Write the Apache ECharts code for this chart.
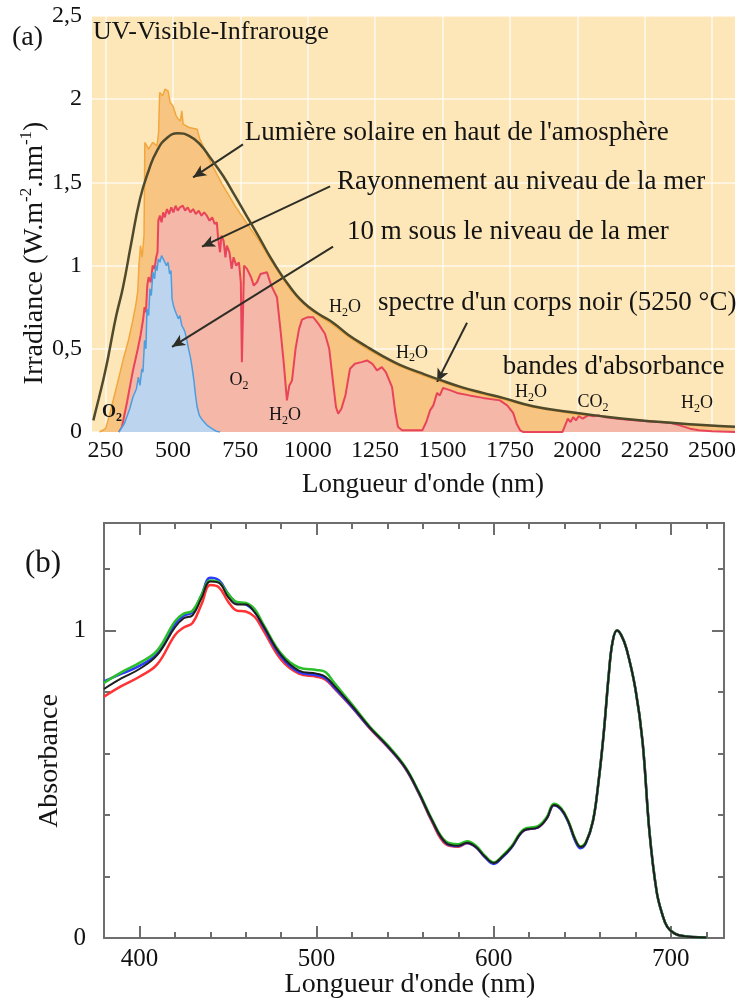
<!DOCTYPE html>
<html>
<head>
<meta charset="utf-8">
<script src="https://cdn.jsdelivr.net/npm/echarts@6/dist/echarts.min.js"></script>
<style>
  html, body { margin: 0; padding: 0; background: #ffffff; }
  #main { width: 740px; height: 1000px; }
</style>
</head>
<body>
<div id="main"></div>
<script>
const FONT = '"Liberation Serif", "Times New Roman", serif';

// ---------- (a) solar spectra: [wavelength (nm), irradiance (W.m-2.nm-1)] ----------
const topOfAtmosphere = [
  [228,0],[250,0.02],[265,0.1],[280,0.2],[300,0.33],[318,0.45],[335,0.55],[350,0.66],[362,0.76],
  [370,0.85],[374,1.0],[380,1.12],[386,1.05],[393,1.18],[396,1.74],[410,1.70],[425,1.74],[441,1.72],
  [447,1.8],[451,2.04],[462,2.02],[470,2.06],[482,2.05],[490,1.98],[500,1.96],[512,1.9],[520,1.88],
  [528,1.87],[533,1.93],[538,1.85],[560,1.83],[590,1.82],[600,1.76],[640,1.62],[686,1.48],[730,1.36],
  [780,1.24],[820,1.15],[860,1.04],[900,0.94],[934,0.86],[971,0.79],[1009,0.735],[1050,0.69],
  [1094,0.645],[1150,0.575],[1220,0.50],[1280,0.445],[1342,0.395],[1420,0.345],[1491,0.303],
  [1570,0.262],[1650,0.227],[1724,0.197],[1836,0.148],[1973,0.113],[2100,0.087],[2221,0.067],
  [2350,0.05],[2466,0.038],[2585,0.03]
];
const seaLevel = [
  [300,0],[311,0.03],[330,0.18],[352,0.37],[370,0.5],[380,0.58],[389,0.67],[395,0.75],[400,0.72],
  [405,0.88],[410,0.93],[418,0.9],[425,1.0],[432,0.98],[438,1.05],[443,1.08],[446,1.27],[452,1.30],
  [458,1.26],[464,1.32],[470,1.29],[478,1.34],[486,1.31],[494,1.35],[502,1.32],[510,1.36],[518,1.33],
  [526,1.35],[537,1.36],[545,1.33],[555,1.35],[565,1.32],[575,1.34],[585,1.31],[596,1.33],[606,1.30],
  [616,1.32],[626,1.30],[636,1.27],[646,1.29],[655,1.25],[663,1.26],[668,1.16],[675,1.08],[680,1.18],
  [688,1.15],[695,1.05],[700,1.12],[710,1.08],[718,0.98],[725,1.05],[735,1.0],[745,1.02],[752,0.9],
  [756,0.42],[760,0.42],[764,1.0],[775,0.98],[790,0.93],[800,0.88],[812,0.90],[825,0.95],[849,0.96],
  [865,0.88],[886,0.81],[900,0.6],[912,0.4],[923,0.19],[932,0.28],[942,0.31],[955,0.5],[968,0.62],
  [979,0.675],[1000,0.69],[1020,0.69],[1040,0.65],[1064,0.59],[1080,0.5],[1094,0.3],[1105,0.15],
  [1113,0.11],[1125,0.14],[1140,0.22],[1157,0.38],[1175,0.41],[1200,0.42],[1220,0.43],[1240,0.41],
  [1257,0.37],[1275,0.39],[1290,0.36],[1313,0.27],[1325,0.12],[1335,0.03],[1350,0.01],[1425,0.01],
  [1440,0.06],[1454,0.13],[1466,0.16],[1480,0.235],[1490,0.22],[1502,0.265],[1530,0.25],[1554,0.235],
  [1600,0.22],[1650,0.205],[1713,0.19],[1740,0.16],[1762,0.115],[1775,0.05],[1788,0.01],[1800,0],
  [1945,0],[1955,0.04],[1965,0.08],[1975,0.06],[1985,0.09],[1995,0.07],[2005,0.095],[2020,0.08],
  [2040,0.1],[2060,0.095],[2080,0.1],[2100,0.09],[2150,0.08],[2200,0.072],[2250,0.066],[2300,0.06],
  [2344,0.055],[2380,0.04],[2418,0.02],[2450,0.01],[2500,0.005],[2585,0]
];
const underwater10m = [
  [300,0],[320,0.05],[340,0.14],[352,0.21],[365,0.26],[372,0.33],[378,0.28],[385,0.38],[389,0.36],
  [395,0.55],[400,0.5],[404,0.74],[410,0.7],[415,0.86],[420,0.82],[426,0.96],[432,0.92],[437,1.0],
  [441,0.97],[446,1.04],[452,1.02],[458,1.06],[464,1.04],[470,1.05],[476,1.0],[482,1.02],[488,0.95],
  [493,0.97],[497,0.8],[502,0.76],[508,0.73],[514,0.74],[520,0.68],[526,0.7],[533,0.64],[540,0.62],
  [545,0.6],[552,0.55],[558,0.5],[565,0.45],[571,0.39],[578,0.31],[584,0.22],[590,0.15],[598,0.1],
  [610,0.07],[627,0.04],[645,0.02],[660,0.005],[675,0]
];
const blackBody5250 = [
  [205,0.07],[211,0.11],[225,0.2],[240,0.3],[255,0.41],[267,0.51],[290,0.7],[315,0.87],[345,1.13],
  [378,1.40],[410,1.57],[441,1.69],[480,1.77],[519,1.795],[560,1.78],[600,1.73],[640,1.645],
  [686,1.54],[730,1.42],[775,1.295],[820,1.17],[860,1.054],[900,0.95],[934,0.873],[971,0.80],
  [1009,0.745],[1050,0.70],[1094,0.657],[1150,0.585],[1220,0.512],[1280,0.455],[1342,0.404],
  [1420,0.355],[1491,0.313],[1570,0.27],[1650,0.235],[1724,0.205],[1836,0.155],[1973,0.12],
  [2100,0.093],[2221,0.072],[2350,0.055],[2466,0.042],[2585,0.032]
];
const wavelengthTicksA = [250, 500, 750, 1000, 1250, 1500, 1750, 2000, 2250, 2500];

// ---------- (b) absorbance spectra ----------
const wavelengthsB = [380,390,400,410,420,425,430,435,440,445,450,455,460,465,470,480,490,500,505,510,
  520,530,540,550,558,565,573,580,585,590,595,600,605,610,617,625,630,634,638,642,646,649,652,656,659,
  662,665,667,669.5,672,675,680,684,688,692,695,698,702,706,712,720];
const absorbanceRed = [0.785,0.82,0.85,0.89,0.985,1.01,1.025,1.085,1.148,1.14,1.095,1.065,1.062,1.045,1.0,
  0.905,0.86,0.85,0.84,0.812,0.75,0.682,0.622,0.552,0.467,0.38,0.305,0.297,0.308,0.295,0.264,0.244,0.265,
  0.295,0.35,0.36,0.39,0.433,0.42,0.38,0.32,0.296,0.31,0.38,0.50,0.66,0.86,0.96,1.0,0.985,0.94,0.81,0.64,
  0.34,0.15,0.08,0.036,0.015,0.007,0.003,0.002];
const absorbanceBlue = [0.835,0.86,0.885,0.925,1.02,1.048,1.06,1.115,1.172,1.163,1.12,1.09,1.085,1.062,
  1.012,0.915,0.865,0.855,0.845,0.815,0.752,0.684,0.624,0.554,0.469,0.384,0.309,0.299,0.309,0.295,0.263,
  0.241,0.263,0.294,0.35,0.36,0.39,0.432,0.418,0.378,0.316,0.292,0.308,0.38,0.50,0.66,0.86,0.96,1.0,0.985,
  0.94,0.81,0.64,0.34,0.15,0.08,0.036,0.015,0.007,0.003,0.002];
const absorbanceGreen = [0.83,0.865,0.895,0.935,1.03,1.055,1.065,1.115,1.163,1.157,1.12,1.093,1.09,1.07,
  1.02,0.925,0.88,0.872,0.865,0.83,0.76,0.688,0.628,0.557,0.472,0.388,0.314,0.305,0.315,0.3,0.268,0.246,
  0.268,0.298,0.354,0.364,0.394,0.437,0.423,0.382,0.322,0.298,0.312,0.382,0.50,0.66,0.86,0.96,1.0,0.985,
  0.94,0.81,0.64,0.34,0.15,0.08,0.036,0.015,0.007,0.003,0.002];
const absorbanceBlack = [0.81,0.845,0.875,0.92,1.01,1.04,1.05,1.105,1.16,1.155,1.11,1.085,1.085,1.06,1.015,
  0.92,0.87,0.86,0.85,0.82,0.755,0.685,0.625,0.555,0.47,0.385,0.31,0.30,0.31,0.296,0.265,0.244,0.265,0.295,
  0.35,0.36,0.39,0.433,0.42,0.38,0.32,0.296,0.31,0.38,0.50,0.66,0.86,0.96,1.0,0.985,0.94,0.81,0.64,0.34,
  0.15,0.08,0.036,0.015,0.007,0.003,0.002];
const wavelengthTicksB = [400, 500, 600, 700];
const wavelengthMinorB = [400,420,440,460,480,500,520,540,560,580,600,620,640,660,680,700,720];
const absorbanceLabels = [0, 1];
const absorbanceMinor = [0.2, 0.4, 0.6, 0.8, 1.2];

// ---------- annotations of panel (a), anchored in data space ----------
const notes = [
  { at: [204, 2.40], text: 'UV-Visible-Infrarouge', size: 26 },
  { at: [767, 1.795], text: "Lumière solaire en haut de l'amosphère", size: 27 },
  { at: [1109, 1.50], text: 'Rayonnement au niveau de la mer', size: 27 },
  { at: [1146, 1.205], text: '10 m sous le niveau de la mer', size: 27 },
  { at: [1261, 0.777], text: "spectre d'un corps noir (5250 °C)", size: 27 },
  { at: [1724, 0.392], text: "bandes d'absorbance", size: 27 },
  { at: [1138, 0.747], text: 'H{s|2}O', size: 18, center: true },
  { at: [1387, 0.476], text: 'H{s|2}O', size: 18, center: true },
  { at: [1828, 0.241], text: 'H{s|2}O', size: 18, center: true },
  { at: [2058, 0.181], text: 'CO{s|2}', size: 18, center: true },
  { at: [2444, 0.175], text: 'H{s|2}O', size: 18, center: true },
  { at: [745, 0.313], text: 'O{s|2}', size: 18, center: true },
  { at: [916, 0.102], text: 'H{s|2}O', size: 18, center: true },
  { at: [274, 0.12], text: 'O{s|2}', size: 18, center: true, bold: true }
];
// pointer arrows: from [x, y] to [x, y] in data space
const pointers = [
  [[760, 1.729], [575, 1.53]],
  [[1083, 1.476], [608, 1.114]],
  [[1094, 1.114], [497, 0.512]],
  [[1591, 0.657], [1480, 0.301]]
];

const zip = (xs, ys) => xs.map((x, i) => [x, ys[i]]);
const comma = v => String(v).replace('.', ',');
const plain = v => String(v);

const chart = echarts.init(document.getElementById('main'), null, { renderer: 'canvas' });

const axisGrey = { color: '#6e6e6e', width: 2 };
const tickFont = { fontFamily: FONT, fontSize: 25, color: '#111' };

function framedX(position, ticks, len, labels) {
  return {
    gridIndex: 1, type: 'value', min: 380, max: 730, position: position,
    axisLine: { show: !labels, onZero: false, lineStyle: axisGrey },
    axisTick: { show: true, inside: true, length: len, customValues: ticks, lineStyle: axisGrey },
    axisLabel: labels ? Object.assign({ show: true, customValues: ticks, margin: 9, formatter: plain }, tickFont) : { show: false },
    splitLine: { show: false }
  };
}
function framedY(position, ticks, len, labels) {
  return {
    gridIndex: 1, type: 'value', min: 0, max: 1.35, position: position,
    axisLine: { show: !labels, onZero: false, lineStyle: axisGrey },
    axisTick: { show: true, inside: true, length: len, customValues: ticks, lineStyle: axisGrey },
    axisLabel: labels ? Object.assign({ show: true, customValues: ticks, margin: 18 }, tickFont) : { show: false },
    splitLine: { show: false }
  };
}

const option = {
  animation: false,
  backgroundColor: '#ffffff',
  grid: [
    { left: 92, top: 16, width: 643, height: 416, show: true, backgroundColor: '#fde7b8', borderWidth: 0 },
    { left: 104, top: 523, width: 620, height: 415 }
  ],
  xAxis: [
    {
      gridIndex: 0, type: 'value', min: 200, max: 2585,
      axisLine: { show: false },
      axisTick: { show: false, customValues: wavelengthTicksA },
      axisLabel: { customValues: wavelengthTicksA, formatter: plain, fontFamily: FONT, fontSize: 24, color: '#111', margin: 7 },
      splitLine: { show: true, lineStyle: { color: 'rgba(255,255,255,0.75)', width: 1.5 } }
    },
    framedX('bottom', wavelengthMinorB, 6, false),
    framedX('bottom', wavelengthTicksB, 12, true),
    framedX('top', wavelengthMinorB, 6, false),
    framedX('top', wavelengthTicksB, 12, false)
  ],
  yAxis: [
    {
      gridIndex: 0, type: 'value', min: 0, max: 2.5, interval: 0.5,
      axisLine: { show: false }, axisTick: { show: false },
      axisLabel: { formatter: comma, fontFamily: FONT, fontSize: 24, color: '#111', margin: 10 },
      splitLine: { show: true, lineStyle: { color: 'rgba(255,255,255,0.75)', width: 1.5 } }
    },
    framedY('left', absorbanceMinor, 6, false),
    framedY('left', absorbanceLabels, 12, true),
    framedY('right', absorbanceMinor, 6, false),
    framedY('right', absorbanceLabels, 12, false)
  ],
  series: [
    {
      name: 'Lumière solaire en haut de l\'atmosphère', type: 'line', xAxisIndex: 0, yAxisIndex: 0,
      data: topOfAtmosphere, showSymbol: false, z: 2,
      lineStyle: { color: '#f2a73e', width: 1.5 },
      areaStyle: { color: '#f7c481', opacity: 1 }
    },
    {
      name: 'Rayonnement au niveau de la mer', type: 'line', xAxisIndex: 0, yAxisIndex: 0,
      data: seaLevel, showSymbol: false, z: 3,
      lineStyle: { color: '#e8445a', width: 2 },
      areaStyle: { color: '#f5b7a8', opacity: 1 }
    },
    {
      name: '10 m sous le niveau de la mer', type: 'line', xAxisIndex: 0, yAxisIndex: 0,
      data: underwater10m, showSymbol: false, z: 4,
      lineStyle: { color: '#4b9ee0', width: 1.5 },
      areaStyle: { color: '#bdd4ee', opacity: 1 }
    },
    {
      name: 'Corps noir 5250 °C', type: 'line', xAxisIndex: 0, yAxisIndex: 0,
      data: blackBody5250, showSymbol: false, smooth: true, z: 5,
      lineStyle: { color: '#4f4a2c', width: 2.5 },
      markLine: {
        silent: true, animation: false,
        symbol: ['none', 'arrow'], symbolSize: [9, 13],
        lineStyle: { color: '#2e2e26', width: 2, type: 'solid' },
        label: { show: false },
        data: pointers.map(p => [{ coord: p[0] }, { coord: p[1] }])
      }
    },
    { type: 'line', name: 'rouge', xAxisIndex: 1, yAxisIndex: 1, data: zip(wavelengthsB, absorbanceRed),
      showSymbol: false, smooth: 0.4, lineStyle: { color: '#ff3333', width: 2.5 }, z: 2 },
    { type: 'line', name: 'bleu', xAxisIndex: 1, yAxisIndex: 1, data: zip(wavelengthsB, absorbanceBlue),
      showSymbol: false, smooth: 0.4, lineStyle: { color: '#2b3cff', width: 2.5 }, z: 3 },
    { type: 'line', name: 'vert', xAxisIndex: 1, yAxisIndex: 1, data: zip(wavelengthsB, absorbanceGreen),
      showSymbol: false, smooth: 0.4, lineStyle: { color: '#2bc02b', width: 2.5 }, z: 4 },
    { type: 'line', name: 'noir', xAxisIndex: 1, yAxisIndex: 1, data: zip(wavelengthsB, absorbanceBlack),
      showSymbol: false, smooth: 0.4, lineStyle: { color: '#1e1e1e', width: 2 }, z: 5 }
  ]
};
chart.setOption(option);

// text layer: annotations placed through the panel (a) coordinate system
const textStyle = (text, size, extra) => Object.assign({
  text: text, fontFamily: FONT, fontSize: size, fill: '#141414',
  align: 'left', verticalAlign: 'middle'
}, extra || {});

const graphics = notes.map(n => {
  const p = chart.convertToPixel({ gridIndex: 0 }, n.at);
  return {
    type: 'text', x: p[0], y: p[1], z: 200, silent: true,
    style: textStyle(n.text, n.size, {
      align: n.center ? 'center' : 'left',
      fontWeight: n.bold ? 'bold' : 'normal',
      lineHeight: Math.round(n.size * 1.3),
      rich: { s: { fontFamily: FONT, fontSize: Math.round(n.size * 0.65), fontWeight: n.bold ? 'bold' : 'normal',
                   verticalAlign: 'bottom', lineHeight: Math.round(n.size * 0.65) } }
    })
  };
});

graphics.push(
  { type: 'text', x: 12, y: 38, z: 200, silent: true, style: textStyle('(a)', 28) },
  { type: 'text', x: 423, y: 485, z: 200, silent: true,
    style: textStyle("Longueur d'onde (nm)", 27, { align: 'center' }) },
  { type: 'text', x: 35, y: 253, rotation: Math.PI / 2, z: 200, silent: true,
    style: textStyle('Irradiance (W.m{p|-2}.nm{p|-1})', 28, {
      align: 'center', lineHeight: 34,
      rich: { p: { fontFamily: FONT, fontSize: 17, verticalAlign: 'top', lineHeight: 17 } }
    }) },
  { type: 'text', x: 25, y: 564, z: 200, silent: true, style: textStyle('(b)', 31) },
  { type: 'text', x: 410, y: 985, z: 200, silent: true,
    style: textStyle("Longueur d'onde (nm)", 28, { align: 'center' }) },
  { type: 'text', x: 50, y: 761, rotation: Math.PI / 2, z: 200, silent: true,
    style: textStyle('Absorbance', 28, { align: 'center' }) }
);

chart.setOption({ graphic: graphics });
</script>
</body>
</html>
